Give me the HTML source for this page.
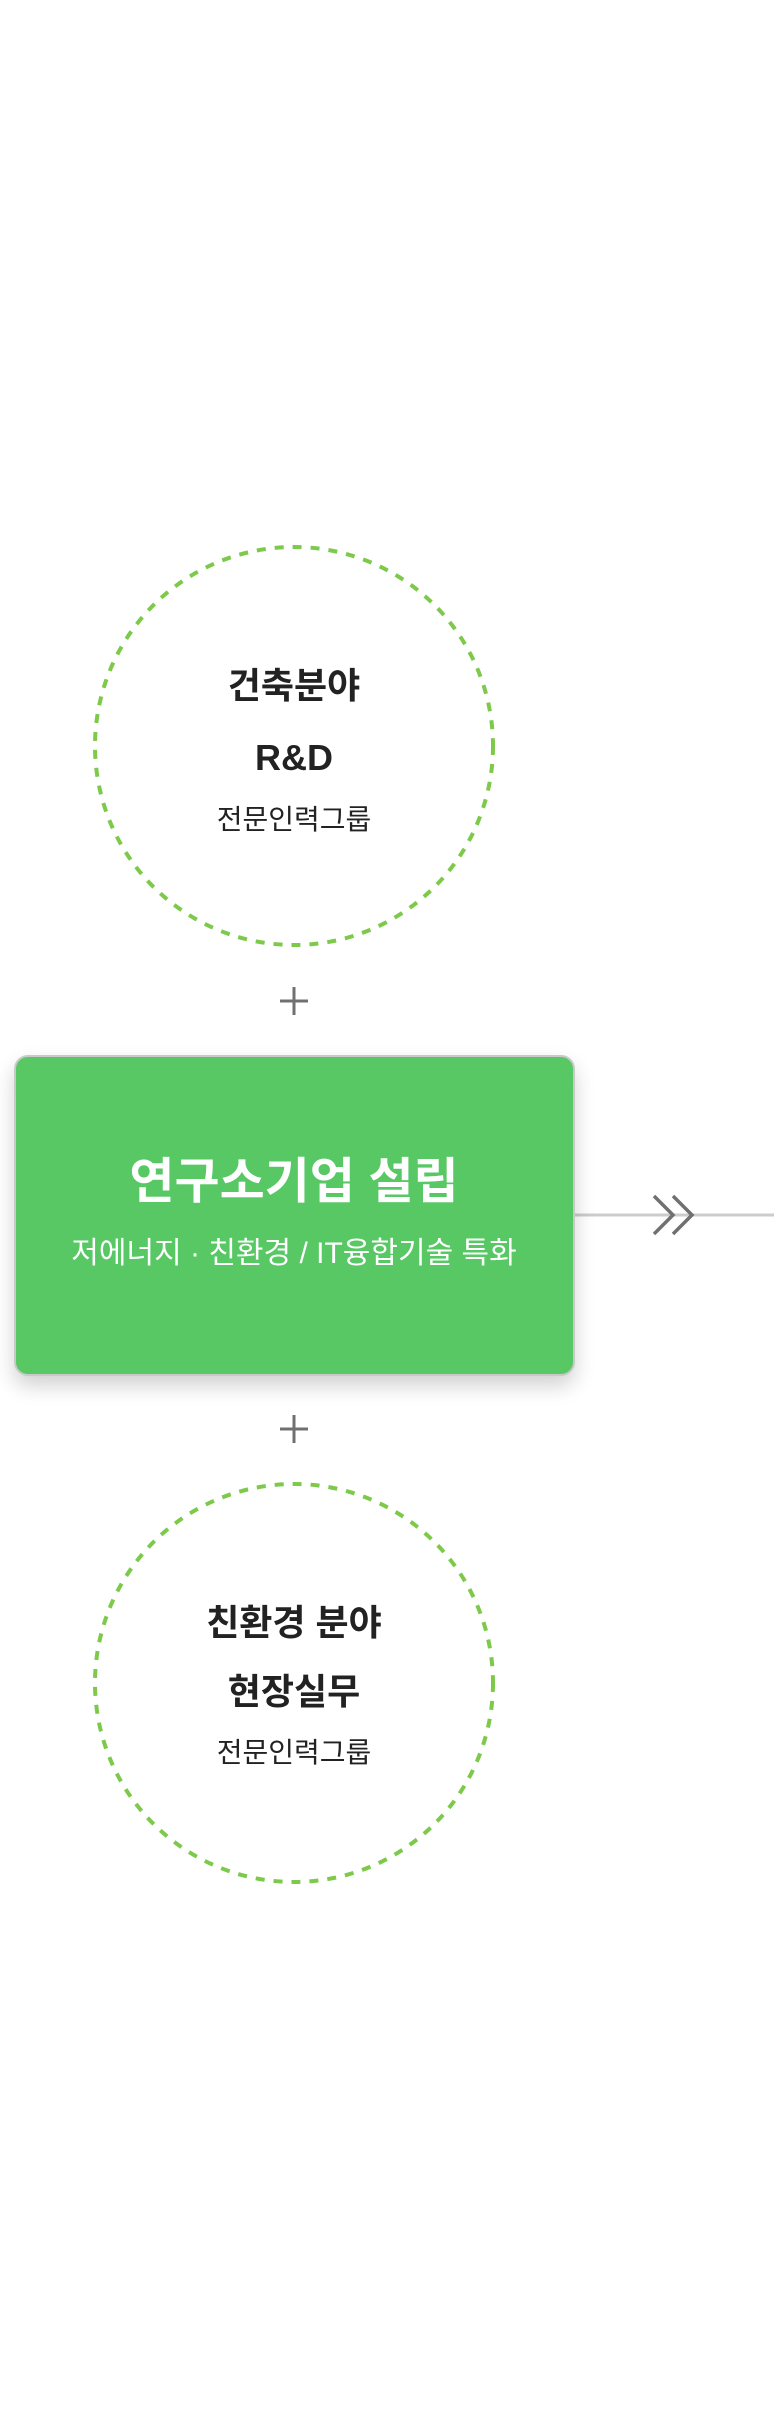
<!DOCTYPE html>
<html><head><meta charset="utf-8"><style>
body{margin:0;width:774px;height:2424px;background:#fff;position:relative;overflow:hidden;font-family:"Liberation Sans","Noto Sans CJK KR",sans-serif;}
.t{position:absolute;left:0;width:588px;text-align:center;line-height:1;color:#222;}
.b{font-weight:bold;font-size:36px;}
.s{font-size:28px;}
.box{position:absolute;left:14px;top:1055px;width:557px;height:317px;background:#57c864;border:2px solid #c9c9c9;border-radius:14px;box-shadow:0 10px 20px rgba(0,0,0,0.18);}
</style></head><body>
<svg width="774" height="2424" style="position:absolute;left:0;top:0">
<circle cx="294" cy="746" r="199" fill="none" stroke="#7dc94a" stroke-width="4" stroke-dasharray="9 9"/>
<circle cx="294" cy="1683" r="199" fill="none" stroke="#7dc94a" stroke-width="4" stroke-dasharray="9 9"/>
<g stroke="#707070" stroke-width="3">
<line x1="280" y1="1001" x2="308" y2="1001"/><line x1="294" y1="987" x2="294" y2="1015"/>
<line x1="280" y1="1429" x2="308" y2="1429"/><line x1="294" y1="1415" x2="294" y2="1443"/>
</g>
<line x1="573" y1="1215" x2="774" y2="1215" stroke="#cccccc" stroke-width="3"/>
<polyline points="654,1196 673,1215 654,1234" fill="none" stroke="#707070" stroke-width="3.5"/>
<polyline points="673,1196 692,1215 673,1234" fill="none" stroke="#707070" stroke-width="3.5"/>
</svg>
<div class="t b" style="top:668px">건축분야</div>
<div class="t b" style="top:740px">R&amp;D</div>
<div class="t s" style="top:806px">전문인력그룹</div>
<div class="box"></div>
<div class="t" style="top:1158px;font-size:49px;font-weight:bold;color:#fff">연구소기업 설립</div>
<div class="t" style="top:1239px;font-size:30px;color:#fff">저에너지 · 친환경 / IT융합기술 특화</div>
<div class="t b" style="top:1605px">친환경 분야</div>
<div class="t b" style="top:1674px">현장실무</div>
<div class="t s" style="top:1739px">전문인력그룹</div>
</body></html>
